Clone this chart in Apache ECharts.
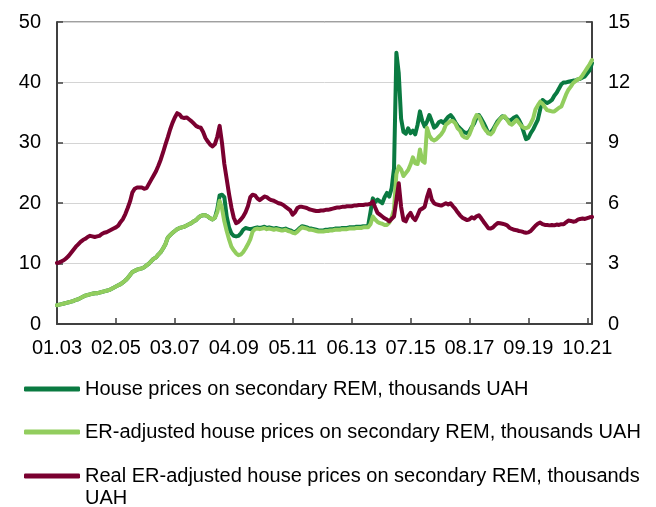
<!DOCTYPE html>
<html>
<head>
<meta charset="utf-8">
<script src="https://cdn.jsdelivr.net/npm/echarts@6/dist/echarts.min.js"></script>
<style>
  html, body { margin: 0; padding: 0; background: #fff; }
  #chart { width: 656px; height: 507px; }
</style>
</head>
<body>
<div id="chart"></div>
<script>
// monthly, Jan 2003 .. Dec 2021
const months = [];
for (let y = 2003; y <= 2021; y++) {
  for (let m = 1; m <= 12; m++) {
    months.push(String(m).padStart(2, "0") + "." + String(y % 100).padStart(2, "0"));
  }
}

// house prices on secondary REM, thousands UAH (left axis)
const housePrices = [
  3.1, 3.2, 3.3, 3.4, 3.5, 3.6, 3.7, 3.8, 4.0, 4.1, 4.3, 4.5,
  4.7, 4.8, 4.9, 5.0, 5.1, 5.1, 5.2, 5.3, 5.4, 5.5, 5.6, 5.8,
  6.0, 6.2, 6.4, 6.6, 6.9, 7.2, 7.6, 8.1, 8.6, 8.8, 9.0, 9.1,
  9.2, 9.4, 9.7, 10.0, 10.4, 10.8, 11.0, 11.5, 11.9, 12.5, 13.2, 14.3,
  14.7, 15.1, 15.4, 15.7, 15.9, 16.0, 16.1, 16.3, 16.5, 16.7, 17.0, 17.2,
  17.6, 17.9, 18.0, 18.0, 17.8, 17.5, 17.3, 17.6, 19.0, 21.3, 21.4, 21.0,
  17.8, 16.0, 15.0, 14.6, 14.5, 14.6, 15.0, 15.6, 15.9, 15.8, 15.7, 15.8,
  15.9, 16.0, 15.9, 16.0, 16.1, 15.9, 16.0, 15.9, 15.8, 15.9, 15.8, 15.7,
  15.7, 15.8, 15.6, 15.5, 15.3, 15.2, 15.5, 15.9, 16.2, 16.1, 16.0, 15.8,
  15.8, 15.7, 15.6, 15.5, 15.5, 15.5, 15.6, 15.6, 15.7, 15.7, 15.8, 15.8,
  15.8, 15.9, 15.9, 15.9, 16.0, 16.0, 16.0, 16.1, 16.1, 16.1, 16.2, 16.2,
  16.2, 18.5, 20.8, 20.2, 20.6, 20.3, 20.0, 21.0, 21.7, 21.1, 22.5, 25.8,
  44.9, 41.5, 34.0, 31.8, 31.5, 32.4, 31.6, 32.0, 31.4, 33.0, 35.2, 33.6,
  32.7, 33.5, 34.6, 33.6, 32.5, 32.8, 33.4, 33.6, 33.3, 33.8, 34.3, 34.6,
  34.1, 33.4, 32.8, 32.4, 32.0, 31.7, 31.6, 31.9, 32.6, 33.2, 34.2, 34.6,
  34.0, 33.3, 32.5, 31.6, 31.7, 32.2, 32.9, 33.6, 34.0, 34.4, 34.2, 33.9,
  33.6, 33.9, 34.2, 34.4, 33.8, 33.0, 31.8, 30.6, 30.8, 31.6, 32.2, 33.0,
  33.8, 35.5, 37.1, 36.8, 36.6, 36.8, 37.1, 37.8, 38.3, 39.0, 39.7, 40.0,
  40.0, 40.1, 40.2, 40.3, 40.3, 40.5, 40.6, 40.8, 41.0, 41.5, 42.0, 43.2
];

// ER-adjusted house prices, thousands UAH (left axis)
const erAdjusted = [
  3.1, 3.2, 3.3, 3.4, 3.5, 3.6, 3.7, 3.8, 4.0, 4.1, 4.3, 4.5,
  4.7, 4.8, 4.9, 5.0, 5.1, 5.1, 5.2, 5.3, 5.4, 5.5, 5.6, 5.8,
  6.0, 6.2, 6.4, 6.6, 6.9, 7.2, 7.6, 8.1, 8.6, 8.8, 9.0, 9.1,
  9.2, 9.4, 9.7, 10.0, 10.4, 10.8, 11.0, 11.5, 11.9, 12.5, 13.2, 14.3,
  14.7, 15.1, 15.4, 15.7, 15.9, 16.0, 16.1, 16.3, 16.5, 16.7, 17.0, 17.2,
  17.6, 17.9, 18.0, 18.0, 17.8, 17.5, 17.3, 17.6, 18.5, 20.4, 19.2, 17.0,
  15.4, 14.0, 12.8, 12.2, 11.7, 11.4, 11.5, 11.9, 12.5, 13.2, 14.0, 15.3,
  15.7, 15.8, 15.7, 15.8, 15.9, 15.7, 15.8, 15.7, 15.6, 15.7, 15.6, 15.5,
  15.5, 15.6, 15.4, 15.3, 15.1, 15.0, 15.3, 15.7, 16.0, 15.9, 15.8, 15.6,
  15.6, 15.5, 15.4, 15.3, 15.3, 15.3, 15.4, 15.4, 15.5, 15.5, 15.6, 15.6,
  15.6, 15.7, 15.7, 15.7, 15.8, 15.8, 15.8, 15.9, 15.9, 15.9, 16.0, 16.0,
  16.0, 16.5, 17.8, 17.3, 16.9, 16.7, 16.6, 16.4, 16.4, 16.8, 17.6, 19.0,
  24.8, 26.1, 25.6, 24.5, 25.0, 25.5, 26.4, 27.6, 26.6, 26.5, 28.9, 27.0,
  26.7, 32.5, 31.2, 30.6, 30.4, 30.6, 31.0, 31.4, 32.0, 33.0, 33.3, 33.6,
  33.6, 33.2, 32.4, 32.0, 31.2, 30.9, 30.8, 31.4, 32.4, 33.8, 34.6, 34.4,
  33.5, 32.6, 32.0, 31.6, 31.4, 31.8, 32.7, 33.3, 33.9, 34.3, 34.4, 33.8,
  33.2, 33.0, 33.4, 33.8, 33.3, 32.8, 32.5, 32.4, 32.6, 33.2, 34.0, 35.5,
  36.2, 36.8, 36.5, 35.9, 35.4, 35.3, 35.2, 35.2, 35.5, 35.8, 36.0, 37.0,
  38.0, 38.8, 39.3, 39.9, 40.2, 40.5, 40.7, 41.2, 41.8, 42.4, 43.0, 43.7
];

// real ER-adjusted house prices (right axis)
const realErAdjusted = [
  3.03, 3.06, 3.12, 3.18, 3.27, 3.39, 3.54, 3.69, 3.84, 3.96, 4.08, 4.17,
  4.23, 4.32, 4.38, 4.35, 4.32, 4.35, 4.38, 4.47, 4.53, 4.56, 4.62, 4.68,
  4.74, 4.80, 4.89, 5.07, 5.22, 5.46, 5.76, 6.09, 6.54, 6.72, 6.78, 6.78,
  6.78, 6.72, 6.75, 6.96, 7.17, 7.38, 7.59, 7.86, 8.16, 8.52, 8.91, 9.27,
  9.66, 9.99, 10.26, 10.47, 10.41, 10.26, 10.23, 10.26, 10.17, 10.08, 9.96, 9.84,
  9.78, 9.75, 9.54, 9.24, 9.06, 8.91, 8.82, 8.94, 9.30, 9.84, 9.00, 7.95,
  7.20, 6.45, 5.79, 5.28, 5.01, 5.07, 5.19, 5.34, 5.55, 5.85, 6.30, 6.42,
  6.39, 6.24, 6.15, 6.24, 6.33, 6.30, 6.21, 6.15, 6.12, 6.06, 6.00, 5.97,
  5.91, 5.82, 5.73, 5.64, 5.43, 5.55, 5.76, 5.82, 5.82, 5.79, 5.76, 5.70,
  5.67, 5.64, 5.61, 5.61, 5.64, 5.64, 5.67, 5.67, 5.70, 5.73, 5.76, 5.79,
  5.79, 5.82, 5.82, 5.85, 5.85, 5.85, 5.88, 5.88, 5.91, 5.91, 5.91, 5.94,
  5.94, 5.97, 6.09, 5.79, 5.52, 5.43, 5.34, 5.25, 5.19, 5.10, 5.22, 5.34,
  6.15, 6.99, 5.82, 5.16, 5.10, 5.37, 5.52, 5.28, 5.16, 5.40, 5.67, 5.73,
  5.82, 6.30, 6.66, 6.18, 6.00, 5.94, 5.91, 5.88, 5.94, 6.00, 5.94, 6.00,
  5.85, 5.72, 5.55, 5.40, 5.28, 5.22, 5.16, 5.20, 5.30, 5.24, 5.35, 5.40,
  5.25, 5.08, 4.92, 4.76, 4.74, 4.80, 4.92, 5.02, 5.00, 4.98, 4.95, 4.90,
  4.78, 4.72, 4.68, 4.66, 4.62, 4.60, 4.56, 4.53, 4.55, 4.62, 4.75, 4.88,
  4.98, 5.04, 4.96, 4.92, 4.92, 4.90, 4.92, 4.90, 4.94, 4.92, 4.96, 4.95,
  5.05, 5.14, 5.12, 5.08, 5.10, 5.18, 5.22, 5.24, 5.22, 5.26, 5.30, 5.32
];

const leftTicks = { min: 0, max: 50, interval: 10 };
const rightTicks = { min: 0, max: 15, interval: 3 };

const NAME_1 = "House prices on secondary REM, thousands UAH";
const NAME_2 = "ER-adjusted house prices on secondary REM, thousands UAH";
const NAME_3 = "Real ER-adjusted house prices on secondary REM, thousands UAH";

const FONT = "Arial, 'Liberation Sans', sans-serif";
const AXIS_COLOR = "#404040";

const chart = echarts.init(document.getElementById("chart"));

const yAxisBase = {
  type: "value",
  axisLine: { show: true, lineStyle: { color: AXIS_COLOR, width: 2 } },
  axisTick: { show: true, inside: true, length: 6, lineStyle: { color: AXIS_COLOR, width: 1.5 } },
  axisLabel: { color: "#000", fontSize: 20, fontFamily: FONT, margin: 16 },
};

const legendText = { color: "#000", fontSize: 20, fontFamily: FONT, lineHeight: 22 };

const option = {
  animation: false,
  backgroundColor: "#fff",
  grid: {
    left: 57,
    right: 64,
    top: 22,
    bottom: 183,
    show: true,
    borderColor: AXIS_COLOR,
    borderWidth: 1,
  },
  legend: [
    {
      orient: "vertical",
      left: 24,
      top: 378,
      padding: 0,
      itemWidth: 56,
      itemHeight: 5,
      itemGap: 21,
      icon: "roundRect",
      data: [NAME_1, NAME_2],
      textStyle: legendText,
    },
    {
      orient: "vertical",
      left: 24,
      top: 443,
      padding: 0,
      itemWidth: 56,
      itemHeight: 5,
      icon: "roundRect",
      data: [NAME_3],
      // first line is blank so the icon sits beside the text's first visible line
      formatter: (name) => "\n" + name.replace(", thousands UAH", ", thousands\nUAH"),
      textStyle: legendText,
    },
  ],
  xAxis: {
    type: "category",
    data: months,
    boundaryGap: false,
    axisLine: { lineStyle: { color: AXIS_COLOR, width: 2 } },
    axisTick: {
      show: true,
      inside: true,
      length: 6,
      interval: 24,
      lineStyle: { color: AXIS_COLOR, width: 1.5 },
    },
    axisLabel: {
      interval: 24,
      color: "#000",
      fontSize: 20,
      fontFamily: FONT,
      margin: 14,
    },
    splitLine: { show: false },
  },
  yAxis: [
    Object.assign({}, yAxisBase, leftTicks, {
      position: "left",
      splitLine: { show: true, lineStyle: { color: "#d4d4d4", width: 1 } },
    }),
    Object.assign({}, yAxisBase, rightTicks, {
      position: "right",
      splitLine: { show: false },
    }),
  ],
  series: [
    {
      name: NAME_1,
      type: "line",
      data: housePrices,
      yAxisIndex: 0,
      showSymbol: false,
      lineStyle: { color: "#0a7a41", width: 4, cap: "round", join: "round" },
      itemStyle: { color: "#0a7a41" },
    },
    {
      name: NAME_2,
      type: "line",
      data: erAdjusted,
      yAxisIndex: 0,
      showSymbol: false,
      lineStyle: { color: "#92cd5e", width: 4, cap: "round", join: "round" },
      itemStyle: { color: "#92cd5e" },
    },
    {
      name: NAME_3,
      type: "line",
      data: realErAdjusted,
      yAxisIndex: 1,
      showSymbol: false,
      lineStyle: { color: "#7a0030", width: 4, cap: "round", join: "round" },
      itemStyle: { color: "#7a0030" },
    },
  ],
};

chart.setOption(option);
</script>
</body>
</html>
